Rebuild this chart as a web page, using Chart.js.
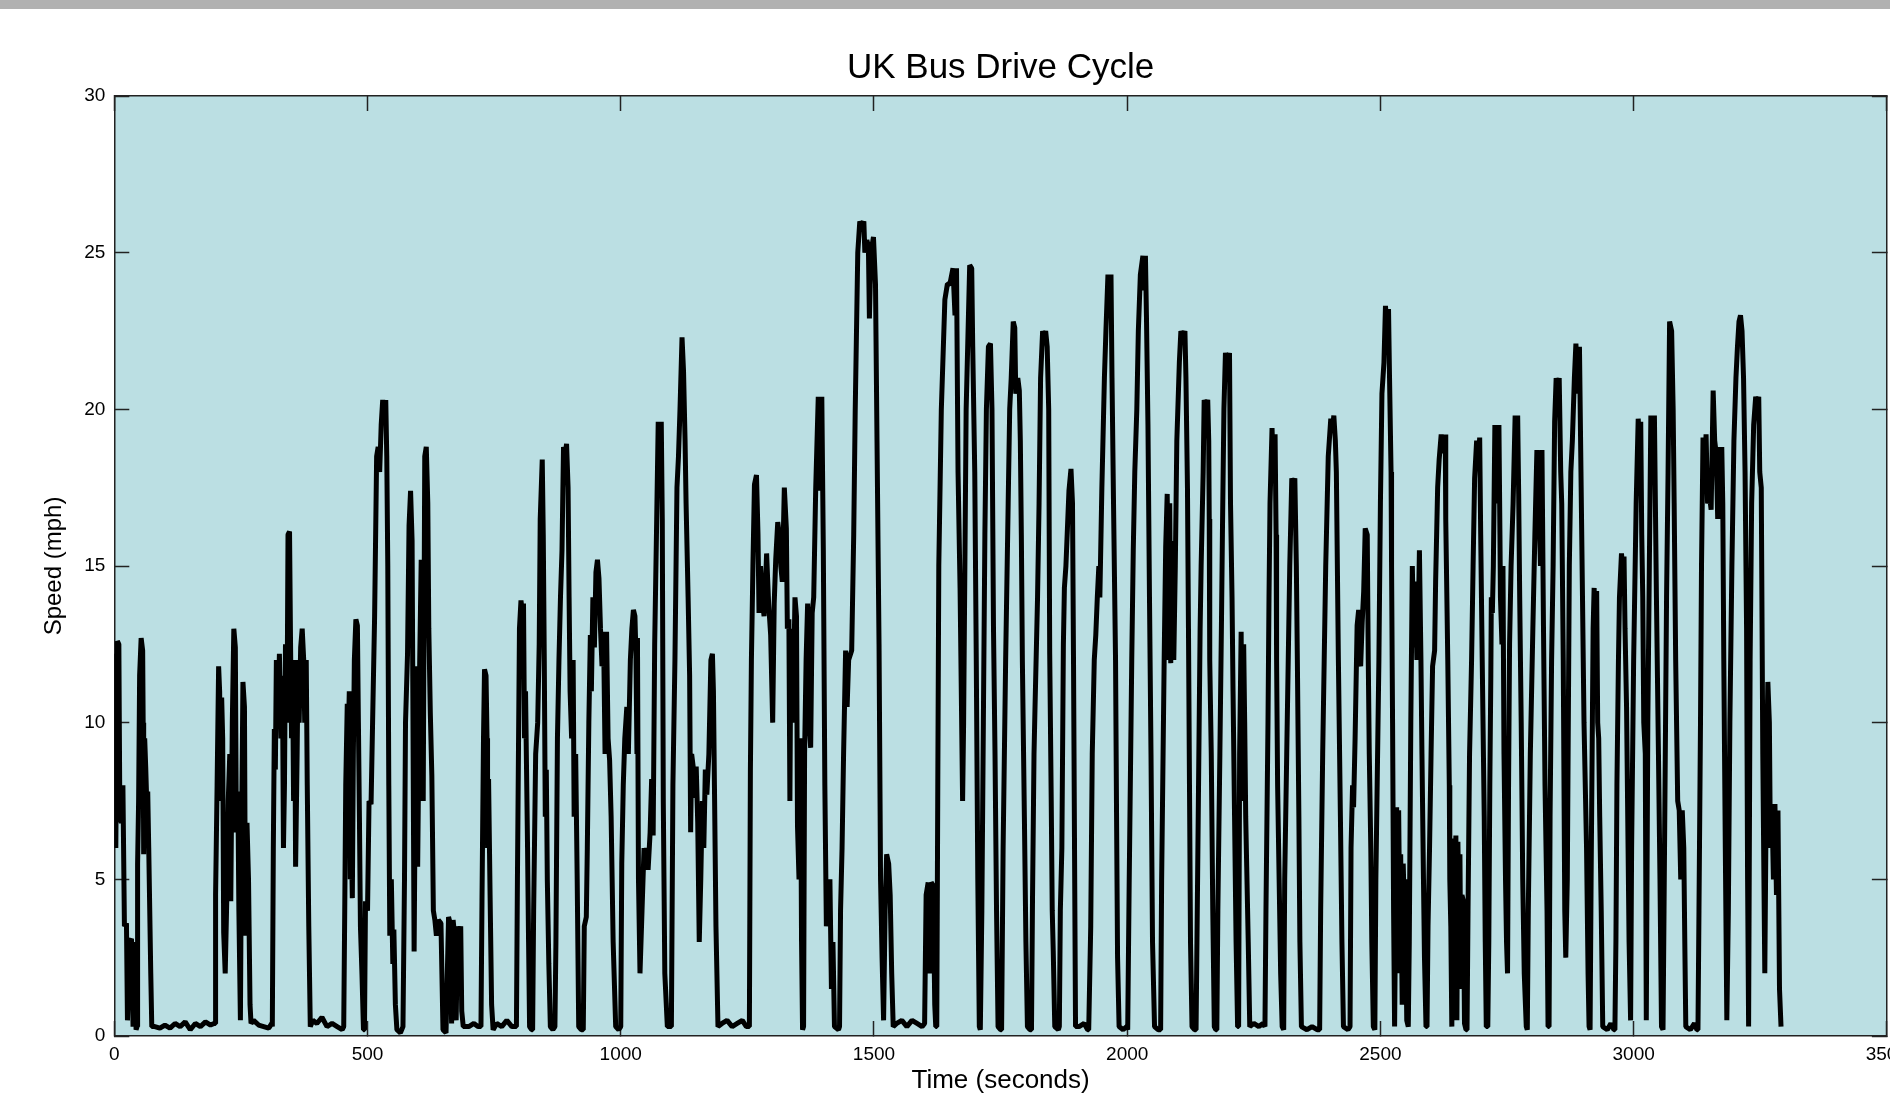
<!DOCTYPE html>
<html>
<head>
<meta charset="utf-8">
<title>UK Bus Drive Cycle</title>
<script src="https://cdn.jsdelivr.net/npm/chart.js@4.4.1/dist/chart.umd.min.js"></script>
<style>
  html, body { margin: 0; padding: 0; background: #fff; overflow: hidden; }
  #topBar { position: absolute; left: 0; top: 0; width: 100%; height: 9px; background: #b1b1b1; z-index: 2; }
  #wrap { position: absolute; left: 0; top: 0; width: 1930px; height: 1094px; }
</style>
</head>
<body>
<div id="topBar"></div>
<div id="wrap"><canvas id="cycleChart"></canvas></div>
<script>
// speed trace, one line per stop-to-stop stretch
const timeSec = [
  0,3,6,9,11,14,17,20,24,26,30,34,37,41,43,
  45,46,48,50,53,56,57,58,60,62,64,66,68,72,74,
  80,90,100,110,120,130,140,150,160,170,180,190,197,
  199,200,203,206,208,210,212,214,216,219,222,225,228,230,233,236,239,241,244,246,249,251,254,257,259,262,265,268,270,
  275,285,295,305,311,
  312,314,316,318,320,323,326,329,332,334,336,338,341,343,346,348,350,352,354,356,358,361,363,365,368,371,374,376,379,381,384,387,
  392,400,410,420,430,440,450,
  453,455,457,460,462,464,466,468,470,472,474,477,480,482,484,486,489,492,
  494,496,500,503,507,510,514,518,521,524,527,530,533,536,538,540,542,544,547,550,552,555,558,565,570,
  573,575,579,582,585,588,592,596,599,603,606,608,610,613,616,619,621,624,627,630,633,636,640,645,649,
  655,660,663,666,669,672,675,678,681,684,686,689,
  700,710,718,
  724,726,729,731,734,736,737,739,742,745,748,
  755,765,775,785,792,
  794,796,798,800,803,806,808,810,812,814,816,818,820,824,
  826,828,832,836,839,841,845,847,849,851,853,855,858,861,866,
  870,872,875,878,881,884,887,890,893,896,898,900,903,906,908,911,914,917,922,
  926,928,932,934,937,940,942,945,948,951,954,957,960,963,966,969,972,975,978,981,985,990,996,
  1000,1002,1005,1008,1012,1015,1019,1022,1025,1028,1030,1032,1033,1035,1038,1042,1046,1049,1051,1054,1058,1061,1064,1067,1071,1074,1077,1080,1082,1084,1087,1092,1098,
  1100,1103,1107,1111,1114,1117,1121,1124,1127,1129,1133,1136,1138,1140,1143,1146,1149,1152,1155,1158,1161,1164,1167,1170,1174,1178,1181,1183,1185,1188,1192,
  1200,1210,1220,1230,1240,1248,
  1254,1256,1258,1261,1264,1268,1271,1273,1276,1279,1283,1286,1288,1292,1296,1300,1303,1306,1310,1313,1316,1319,1323,1327,1329,1332,1334,1336,1340,1344,1347,1349,1352,1355,1357,1359,
  1361,1363,1366,1369,1372,1375,1378,1381,1385,1390,1394,1397,1400,1403,1406,1409,1413,1416,1419,1422,1430,
  1432,1434,1437,1440,1444,1447,1450,1456,1460,1463,1468,1472,1476,1480,1482,1486,1489,1491,1494,1499,1503,1506,1510,1513,1516,1519,1522,1525,1529,1532,1535,1538,
  1545,1555,1565,1575,1585,1595,
  1600,1603,1607,1610,1613,1617,1620,1622,
  1624,1626,1628,1633,1640,1645,1650,1656,1660,1663,1666,1670,1675,1677,1682,1689,1693,1695,1699,1702,1705,1708,
  1710,1713,1716,1719,1722,1726,1730,1733,1736,1739,1742,1745,1750,
  1752,1755,1760,1765,1768,1771,1775,1778,1780,1784,1787,1789,1791,1793,1797,1800,1803,1808,
  1811,1813,1816,1818,1823,1826,1829,1833,1836,1839,1842,1845,1847,1850,1852,1854,1857,1864,
  1866,1868,1871,1874,1876,1879,1882,1885,1889,1892,1894,1896,1898,
  1905,1915,1922,
  1924,1928,1931,1935,1938,1941,1944,1946,1950,1955,1958,1962,1965,1968,1970,1973,1977,1979,1981,1984,1992,1999,
  2001,2004,2009,2012,2015,2019,2022,2026,2031,2033,2036,2038,2041,2044,2047,2050,2054,2061,
  2066,2068,2073,2076,2079,2082,2084,2086,2089,2092,2095,2098,2103,2106,2110,2114,2116,2119,2121,2123,2125,2128,2133,
  2136,2139,2144,2146,2150,2152,2156,2159,2161,2162,2163,2166,2169,2172,2175,
  2177,2179,2183,2186,2188,2191,2194,2198,2202,2204,2207,2209,2212,2215,2218,
  2220,2222,2225,2227,2230,2232,2234,2236,2239,2242,
  2250,2260,2268,
  2272,2274,2278,2280,2282,2286,2289,2292,2294,2295,2297,2300,2303,2306,
  2309,2311,2315,2318,2321,2325,2328,2331,2334,2336,2339,2341,2344,2355,2365,2375,
  2380,2382,2386,2389,2392,2397,2402,2405,2408,2411,2413,2417,2421,2424,2427,2436,
  2440,2442,2445,2447,2450,2454,2457,2459,2461,2464,2467,2470,2474,2476,2478,2481,2483,2486,
  2489,2491,2497,2500,2503,2507,2510,2513,2516,2518,2521,2522,2524,2526,2528,2530,2532,2534,2536,2538,2540,2543,2545,2547,2549,2552,2555,
  2557,2560,2563,2566,2569,2572,2575,2577,2580,2582,2585,2587,2590,
  2592,2594,2597,2600,2603,2607,2609,2613,2616,2620,2624,2628,2629,2633,2636,2637,2639,2641,
  2643,2645,2647,2649,2651,2653,2655,2657,2659,2661,2664,2666,2669,
  2671,2673,2676,2680,2683,2686,2690,2693,2696,2698,2701,2705,2707,2709,
  2712,2714,2716,2718,2719,2721,2723,2726,2729,2731,2734,2736,2737,2740,2742,2744,2747,2749,2751,2753,2755,2758,2762,2766,2769,2771,2773,2775,2778,2781,2784,2788,
  2790,2792,2796,2801,2805,2809,2813,2816,2819,2822,2825,2829,2831,
  2833,2835,2838,2841,2844,2847,2850,2853,2856,2858,2861,2864,2866,2869,2873,2876,2879,2883,2886,2890,2893,2896,2899,2902,2907,2910,2912,
  2914,2916,2918,2920,2922,2925,2927,2929,2931,2933,2936,2939,2948,2955,2961,
  2963,2965,2967,2970,2972,2976,2978,2981,2983,2986,2989,2991,2994,2996,3000,3005,3009,3012,3014,3016,3018,3020,3023,3025,3028,3031,3034,3038,3041,3045,3049,3052,3055,
  3058,3060,3063,3065,3068,3071,3075,3078,3080,3083,3087,3090,3093,3096,3099,3101,3103,3112,3120,3125,
  3127,3129,3132,3134,3137,3140,3143,3146,3150,3153,3157,3160,3163,3166,3169,3171,3174,3176,3178,3181,3184,3187,3190,3194,3198,3202,3205,3208,3211,3214,3217,3220,3223,3225,3227,3230,3233,3237,3241,3244,3247,3249,3252,3255,3259,3262,3265,3268,3270,3273,3276,3279,3282,3285,3288,3291
];

const speedMph = [
  12.2,6,12.6,12.5,7,6.8,8,3.5,3.6,0.5,3,3.1,0.3,3,0.2,
  0.3,5.5,7.5,11.5,12.7,12.3,10,5.8,9.5,8.6,7.5,7.8,6,2,0.3,
  0.3,0.25,0.35,0.25,0.4,0.3,0.45,0.2,0.4,0.3,0.45,0.35,0.4,
  0.4,4.5,8,11.8,11,7.5,10.8,9.5,3.3,2,4.3,7.5,9,4.3,10,13,12.4,6.5,7.8,4,0.5,6,11.3,10.5,3.2,6.8,5,1,0.4,
  0.5,0.35,0.3,0.25,0.4,
  0.3,6,9.8,8.5,12,10,12.2,9.5,11.5,6,8,12.5,10,16,16.1,12.5,9.5,11.5,7.5,12,5.4,9,12,10,12.4,13,12,10,12,8,3.5,0.3,
  0.5,0.4,0.6,0.3,0.4,0.3,0.2,
  0.3,4,8,10.6,9.5,11,5,6.3,4.4,9,12,13.3,13.1,10,7,3.5,2,0.2,
  0.2,4.3,4,7.5,7.4,10,13.4,18.5,18.8,18,19.5,20.3,19.8,20.3,18.5,15,8,3.2,5,2.3,3.4,1,0.2,0.1,0.3,
  5,10,12.2,16.3,17.4,15.8,2.7,11.8,5.4,11.9,15.2,14.4,7.5,18.5,18.8,17,13,10.3,8.3,4,3.7,3.2,3.7,3.6,0.2,
  0.1,3.8,3.6,0.4,3.7,3.2,0.5,3.5,3.2,3.5,0.8,0.3,
  0.3,0.4,0.3,
  0.3,4.3,9.5,11.7,11.5,9.5,6,8.2,4.5,1,0.2,
  0.4,0.3,0.5,0.3,0.3,
  0.3,5,9,13,13.9,13.5,13.8,9.5,11,8.5,6,3,0.3,0.2,
  0.2,4,9,10,12.5,16.5,18.4,16,12,7,8.5,5,2.3,0.3,0.2,
  0.3,3,9.5,12,14,15.5,18.8,18.5,18.9,17.5,14,11,9.5,12,7,9,5,0.3,0.2,
  0.2,3.5,3.8,6,10,12.8,11,14,12.4,14.8,15.2,14.6,13,11.8,12.9,9,12.9,9.5,8.8,7,3,0.3,0.2,
  0.3,5.5,8,9.5,10.5,9,12,13,13.6,13.4,12.2,9,12.7,5,2,4,6,5.5,6,5.3,6.5,8.2,6.4,12.5,16.5,19.6,18,19.6,16.5,7.5,2,0.3,0.3,
  0.3,8,12,17.5,18.5,20,22.3,21.2,19,17,14,11.5,6.5,9,8.6,7.6,8.6,6.8,3,5,7.5,6,8.5,7.7,9,12,12.2,11,8,3.5,0.3,
  0.4,0.5,0.3,0.4,0.5,0.3,
  0.3,8.5,12,15,17.6,17.9,16,13.5,15,14,13.4,14.5,15.4,13.8,12.8,10,13.8,15.2,16.4,16,15,14.5,17.5,16.2,13,13.3,7.5,13,10,14,13.4,6.7,5,9.5,3,0.2,
  0.3,9,12,13.8,10,9.2,13.5,14,17.5,20.4,17.4,20.4,15.5,8,3.5,4,5,1.5,3,0.3,0.2,
  0.3,4,6,9,12.3,10.5,12,12.3,16,20,25,26,25.8,26,25,25.4,25.2,22.9,25,25.5,24,19,12.5,5,2.5,0.5,4,5.8,5.5,4.5,2,0.3,
  0.4,0.5,0.3,0.5,0.4,0.3,
  0.4,4.5,4.9,2,4.9,4.8,1,0.3,
  0.3,8,15,20,23.5,24,24,24.5,23,24.5,18,14.3,7.5,10,20,24.6,24.5,22,18,12,5,0.3,
  0.2,4,10,16,20,22,22.1,20,13,9,4,0.3,0.2,
  0.2,6,12,17,20,21,22.8,22.6,20.5,21,20.6,19,16,12,7,3,0.3,0.2,
  0.2,4.3,9,10.5,14,17,21,22.5,22.3,22.5,22,20,12.2,7.5,4,2.7,0.3,0.2,
  0.3,4,6,12.5,14.3,15,16.2,17.4,18.1,17,12,6,0.3,
  0.3,0.4,0.2,
  0.2,3.5,9,12,12.8,14,15,14,17.5,21,22.5,24.3,23,24.3,21,17,12,7,2.5,0.3,0.2,0.3,
  0.2,5,12,15.5,18,20,22.5,24.3,24.9,23.8,24.9,23,19.5,14,9,3,0.3,0.2,
  0.2,5,12,15.6,17.3,12,17,11.9,15.8,12,15,19,21.5,22.5,22.3,22.5,21,17.5,13,8,3,0.3,0.2,
  0.2,5,13,15,18,20.3,20.1,20.3,19,16.5,12,9,4,0.3,0.2,
  0.2,4,9,13,16,20,21.8,21.5,21.8,17,14,11,7,3,0.3,
  0.3,9,12.9,7.5,12.5,10,7,5.4,3,0.3,
  0.4,0.3,0.4,
  0.3,4,10,14,17,19.4,17.8,19.2,16,12,8,5,2,0.3,
  0.2,5,9,12,15,17.8,17.5,17.8,15,12,7,3,0.3,0.2,0.3,0.2,
  0.2,4,9,12,15,18.5,19.7,19.3,19.8,19,18,12,7,3,0.3,0.2,
  0.3,6,8,7.3,9.5,13.1,13.6,12,11.8,13.2,14.2,16.2,16,12,9,6,3,0.3,
  0.2,5,12,17,20.5,21.5,23.3,22.5,23.2,21,18,15,10,4,0.3,4,7.3,2,7.2,4,5.8,1,5.5,4.2,5,0.5,0.3,
  3,10,15,12.4,14.5,12,13.5,15.5,12,9,5,2.5,0.3,
  0.3,3.5,6,9,11.8,12.3,14.5,17.5,18.4,19.2,18.6,19.2,16.5,12,8,5,3.5,0.3,
  4,6.3,5,6.4,0.5,6.2,4,5.8,1.5,4.5,4.3,0.4,0.2,
  0.2,4,9,12,15,17.8,19,18.2,19.1,16,12,7,3,0.3,
  0.3,3,8,11.5,14,13.5,15,19.5,17,18.3,19.5,16,14,12.5,15,9,5,3,2,8,12.5,15,17,19.8,18.6,19.8,17.3,14,10,5,2,0.3,
  0.2,4,9,13,16,18.7,17,15,18.7,13,8,4,0.3,
  0.3,7,12,15,19.6,21,20.2,21,18,17,12,4,2.5,5,15,18,19,21,22.1,20.5,22,18,14,10,6,2,0.3,
  0.2,5,9,13,14.3,12,14.2,10,9.5,7,4,0.3,0.2,0.4,0.2,
  0.2,3,8,12,14,15.4,15,15.3,13,10.5,6,3,0.5,6,12,17,19.7,18.8,19.6,16,14,10,9,0.5,10,15,19.8,18,19.8,14,9,5,0.3,
  0.2,4,10,14,18,22.8,22.5,20,17,12,7.5,7.2,5,7.2,6,3,0.3,0.2,0.4,0.2,
  0.2,4,10,15,19.1,18,19.2,17,17.2,16.8,20.6,19,18.6,16.5,18.8,16.5,18.8,17,12,6,0.5,4,10,15,19,21,22,22.8,23,22.5,21,18,13,5,0.3,12,17,19.5,20.4,20.2,20.4,18,17.5,9,2,8,11.3,10,6,7.4,5,7.4,4.5,7.2,1.5,0.3
];

const xTicks = [0, 500, 1000, 1500, 2000, 2500, 3000, 3500];
const yTicks = [0, 5, 10, 15, 20, 25, 30];

if (timeSec.length !== speedMph.length) {
  throw new Error("time/speed length mismatch: " + timeSec.length + " vs " + speedMph.length);
}

Chart.defaults.font.family = '"Liberation Sans", Arial, Helvetica, sans-serif';
Chart.defaults.color = "#000";

const plotBackground = {
  id: "plotBackground",
  beforeDraw(chart) {
    const { ctx, chartArea: a } = chart;
    ctx.save();
    ctx.fillStyle = "#bbdfe3";
    ctx.fillRect(a.left, a.top, a.right - a.left, a.bottom - a.top);
    ctx.restore();
  }
};

const axisColor = "#222";
const innerGrid = {
  drawOnChartArea: false,
  drawTicks: true,
  tickLength: -15,
  tickWidth: 1.5,
  tickColor: axisColor
};
const axisBorder = { display: true, color: axisColor, width: 1.5 };

new Chart(document.getElementById("cycleChart"), {
  type: "line",
  data: {
    datasets: [{
      label: "Speed",
      data: timeSec.map((t, i) => ({ x: t, y: speedMph[i] })),
      borderColor: "#000",
      borderWidth: 5,
      borderJoinStyle: "bevel",
      pointRadius: 0,
      fill: false,
      tension: 0
    }]
  },
  options: {
    responsive: true,
    maintainAspectRatio: false,
    animation: false,
    events: [],
    layout: { padding: { left: 0, right: 32, top: 0, bottom: 0 } },
    plugins: {
      legend: { display: false },
      tooltip: { enabled: false },
      title: {
        display: true,
        text: "UK Bus Drive Cycle",
        fullSize: false,
        color: "#000",
        font: { size: 35, weight: "normal", lineHeight: 1 },
        padding: { top: 51, bottom: 10 }
      }
    },
    scales: {
      x: {
        type: "linear",
        position: "bottom",
        min: 0,
        max: 3500,
        afterBuildTicks: (s) => { s.ticks = xTicks.map(v => ({ value: v })); },
        afterFit: (s) => { s.height = 58; },
        ticks: { autoSkip: false, maxRotation: 0, padding: 22, font: { size: 19 }, callback: (v) => String(v) },
        grid: innerGrid,
        border: axisBorder,
        title: { display: true, text: "Time (seconds)", font: { size: 26, lineHeight: 1 }, padding: { top: 0, bottom: 0 } }
      },
      y: {
        type: "linear",
        position: "left",
        min: 0,
        max: 30,
        afterBuildTicks: (s) => { s.ticks = yTicks.map(v => ({ value: v })); },
        afterFit: (s) => { s.width = 114.3; },
        ticks: { padding: 24, font: { size: 19 }, callback: (v) => String(v) },
        grid: innerGrid,
        border: axisBorder,
        title: { display: true, text: "Speed (mph)", font: { size: 24 }, padding: { top: 40, bottom: 0 } }
      },
      x2: {
        type: "linear",
        position: "top",
        min: 0,
        max: 3500,
        afterBuildTicks: (s) => { s.ticks = xTicks.map(v => ({ value: v })); },
        afterFit: (s) => { s.height = 0; },
        ticks: { display: false },
        grid: innerGrid,
        border: axisBorder
      },
      y2: {
        type: "linear",
        position: "right",
        min: 0,
        max: 30,
        afterBuildTicks: (s) => { s.ticks = yTicks.map(v => ({ value: v })); },
        afterFit: (s) => { s.width = 0; },
        ticks: { display: false },
        grid: innerGrid,
        border: axisBorder
      }
    }
  },
  plugins: [plotBackground]
});
</script>
</body>
</html>
